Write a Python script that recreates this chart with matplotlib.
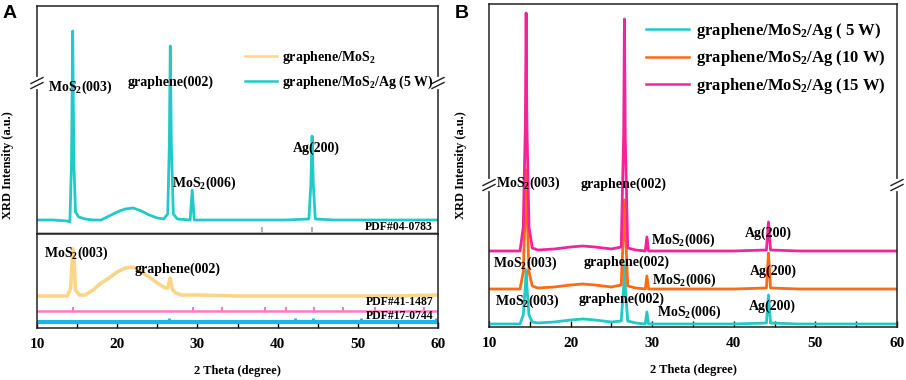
import matplotlib
matplotlib.use('Agg')
import matplotlib.pyplot as plt
from matplotlib.lines import Line2D

plt.rcParams['font.family'] = 'Liberation Serif'
plt.rcParams['font.weight'] = 'bold'
plt.rcParams['axes.labelweight'] = 'bold'
plt.rcParams['mathtext.fontset'] = 'custom'
plt.rcParams['mathtext.rm'] = 'Liberation Serif:bold'
plt.rcParams['mathtext.it'] = 'Liberation Serif:bold'
plt.rcParams['mathtext.bf'] = 'Liberation Serif:bold'
plt.rcParams['mathtext.default'] = 'rm'

W, H = 906, 380

# ---- panel A, upper part: graphene/MoS2/Ag (5 W), display units ----
a5_x = [10, 12, 13.8, 14.1, 14.3, 14.45, 14.6, 14.8, 15.2, 16, 17, 18, 19, 20, 21, 22, 23, 24,
        25, 25.8, 26.3, 26.5, 26.62, 26.75, 27.0, 27.5, 29.1, 29.35, 29.6, 30, 33, 36, 38, 41,
        43.9, 44.15, 44.3, 44.45, 44.7, 47, 50, 53, 56, 60]
a5_y = [14, 14, 13, 12, 70, 203, 70, 22, 17, 15, 14, 14, 18, 22, 25, 26, 23, 19,
        16, 15, 20, 90, 188, 90, 20, 15, 14, 44, 14, 14, 14, 14, 14, 14,
        15, 50, 98, 50, 15, 14, 14, 14, 14, 14]

# ---- panel A, lower part: graphene/MoS2 ----
gm_x = [10, 12, 13.8, 14.2, 14.4, 14.5, 14.6, 14.8, 15.3, 16, 17, 18, 19, 20, 21, 22, 23, 24,
        25, 26, 26.3, 26.6, 26.9, 27.3, 28, 30, 35, 40, 45, 50, 55, 60]
gm_y = [32, 32, 32, 40, 70, 79, 70, 38, 33, 33, 38, 45, 50, 56, 60, 61, 56, 51,
        45, 40, 40, 50, 38, 35, 33, 33, 32, 32, 32, 32, 32, 33]

# reference cards
pdf_ag = [38.1, 44.3]                                        # PDF#04-0783
pdf_mos2 = [14.5, 29.4, 33.1, 38.4, 41.1, 44.5, 48.1, 52.1, 58.3]  # PDF#41-1487
pdf_c = [26.4, 42.2, 44.4, 50.4, 59.8]                        # PDF#17-0744

# ---- panel B, display units ----
b_x = [10, 13.8, 14.2, 14.45, 14.55, 14.65, 14.9, 15.3, 16, 18, 20, 21.5, 23, 25, 26.2, 26.5,
       26.6, 26.7, 27.0, 28, 29.15, 29.35, 29.55, 31, 35, 40, 44.0, 44.25, 44.5, 48, 55, 60]
b5_y = [3, 3, 12, 40, 57, 40, 12, 5, 4, 5, 7, 8, 7, 5, 6, 40,
        62, 40, 6, 4, 3, 15, 3, 3, 3, 3, 4, 32, 4, 3, 3, 3]
b10_y = [38, 38, 55, 120, 157, 120, 55, 41, 39, 40, 42, 43, 42, 40, 42, 100,
         127, 100, 41, 39, 38, 51, 38, 38, 38, 38, 39, 74, 39, 38, 38, 38]
b15_y = [76, 76, 100, 200, 314, 200, 100, 79, 77, 78, 80, 81, 80, 78, 80, 190,
         308, 190, 79, 77, 76, 90, 76, 76, 76, 76, 77, 105, 77, 76, 76, 76]

cyan = '#1fcac8'
yellow = '#fdd58a'
pink_ref = '#ff7ac6'
blue_ref = '#16b6ee'
orange = '#ff6a12'
magenta = '#f5239a'

fig = plt.figure(figsize=(W / 100, H / 100), dpi=100)


def px_axes(l, t, r, b):
    return fig.add_axes([l / W, 1 - b / H, (r - l) / W, (b - t) / H])


def style(ax, bottom_ticks):
    for s in ax.spines.values():
        s.set_linewidth(1.1)
        s.set_color('#222222')
    ax.set_xlim(10, 60)
    ax.set_yticks([])
    if bottom_ticks:
        ax.set_xticks([10, 20, 30, 40, 50, 60])
        ax.set_xticks([15, 25, 35, 45, 55], minor=True)
        ax.tick_params(axis='x', which='both', direction='in', length=4, width=1,
                       labelsize=11, pad=7)
    else:
        ax.set_xticks([])


def brk(xp, yp):
    fig.add_artist(Line2D([xp / W, xp / W], [1 - (yp - 4) / H, 1 - (yp + 4) / H],
                          color='white', lw=3))
    for d in (-2.5, 2.5):
        fig.add_artist(Line2D([(xp - 6) / W, (xp + 6) / W],
                              [1 - (yp + d + 3) / H, 1 - (yp + d - 3) / H],
                              color='#222222', lw=1))


lab = dict(fontsize=10, ha='center', va='center')

# panel A top
axt = px_axes(37, 6, 438, 234)
style(axt, False)
axt.set_ylim(0, 228)
axt.plot(a5_x, a5_y, color=cyan, lw=2)
axt.axhline(1.5, color='#b4b4b4', lw=2)
axt.vlines(pdf_ag, 1.5, 7, color='#b4b4b4', lw=1.5)
axt.text(15.4, 147, 'MoS$_2$(003)', **lab)
axt.text(26.7, 152, 'graphene(002)', **lab)
axt.text(30.8, 51, 'MoS$_2$(006)', **lab)
axt.text(44.8, 86, 'Ag(200)', **lab)
axt.text(59.4, 7, 'PDF#04-0783', fontsize=8.5, ha='right', va='center')

# panel A bottom
axb = px_axes(37, 234, 438, 328)
style(axb, True)
axb.set_ylim(0, 94)
axb.plot(gm_x, gm_y, color=yellow, lw=2.6)
axb.axhline(17, color=pink_ref, lw=1.8)
axb.vlines(pdf_mos2, 17, 21, color=pink_ref, lw=1.5)
axb.axhline(6, color=blue_ref, lw=3)
axb.vlines(pdf_c, 6, 10, color=blue_ref, lw=2)
axb.text(14.9, 75, 'MoS$_2$(003)', **lab)
axb.text(27.5, 59, 'graphene(002)', **lab)
axb.text(59.4, 26, 'PDF#41-1487', fontsize=8.5, ha='right', va='center')
axb.text(59.4, 12, 'PDF#17-0744', fontsize=8.5, ha='right', va='center')
axb.set_xlabel('2 Theta (degree)', fontsize=9, labelpad=10)

legA = [Line2D([], [], color=yellow, lw=1.8), Line2D([], [], color=cyan, lw=1.8)]
axt.legend(legA, ['graphene/MoS$_2$', 'graphene/MoS$_2$/Ag (5 W)'],
           loc='upper left', bbox_to_anchor=((245 - 37) / 401, 1 - (49 - 6) / 228),
           frameon=False, fontsize=10, handlelength=2.3, handletextpad=0.4,
           labelspacing=0.55, borderaxespad=0, borderpad=0)

fig.text(8 / W, 1 - 165 / H, 'XRD Intensity (a.u.)', rotation=90, fontsize=9,
         ha='center', va='center')
brk(37, 83)
brk(438, 83)

# panel B
axB = px_axes(489, 4, 897, 327)
style(axB, True)
axB.set_ylim(0, 323)
axB.plot(b_x, b5_y, color=cyan, lw=2)
axB.plot(b_x, b10_y, color=orange, lw=2)
axB.plot(b_x, b15_y, color=magenta, lw=2)
rows = [(144, 143, 87, 94), (64, 65, 47, 56), (26, 28, 15, 21)]
xs = [(14.8, 26.5, 33.8, 44.2), (14.5, 26.9, 33.9, 44.8), (14.7, 26.2, 34.5, 44.7)]
for (y1, y2, y3, y4), (x1, x2, x3, x4) in zip(rows, xs):
    axB.text(x1, y1, 'MoS$_2$(003)', **lab)
    axB.text(x2, y2, 'graphene(002)', **lab)
    axB.text(x3, y3, 'MoS$_2$(006)', **lab)
    axB.text(x4, y4, 'Ag(200)', **lab)
axB.set_xlabel('2 Theta (degree)', fontsize=9, labelpad=10)

legB = [Line2D([], [], color=c, lw=1.8) for c in (cyan, orange, magenta)]
axB.legend(legB, ['graphene/MoS$_2$/Ag ( 5 W)', 'graphene/MoS$_2$/Ag (10 W)',
                  'graphene/MoS$_2$/Ag (15 W)'],
           loc='upper left', bbox_to_anchor=((646 - 489) / 408, 1 - (21 - 4) / 323),
           frameon=False, fontsize=12, handlelength=2.6, handletextpad=0.4,
           labelspacing=0.45, borderaxespad=0, borderpad=0)

fig.text(461 / W, 1 - 165 / H, 'XRD Intensity (a.u.)', rotation=90, fontsize=9,
         ha='center', va='center')
brk(489, 185)
brk(897, 185)

fig.text(3 / W, 1 - 14 / H, 'A', fontsize=14, family='Liberation Sans', weight='bold',
         va='center', ha='left')
fig.text(455 / W, 1 - 13 / H, 'B', fontsize=14, family='Liberation Sans', weight='bold',
         va='center', ha='left')

fig.savefig('out.png', dpi=100)
